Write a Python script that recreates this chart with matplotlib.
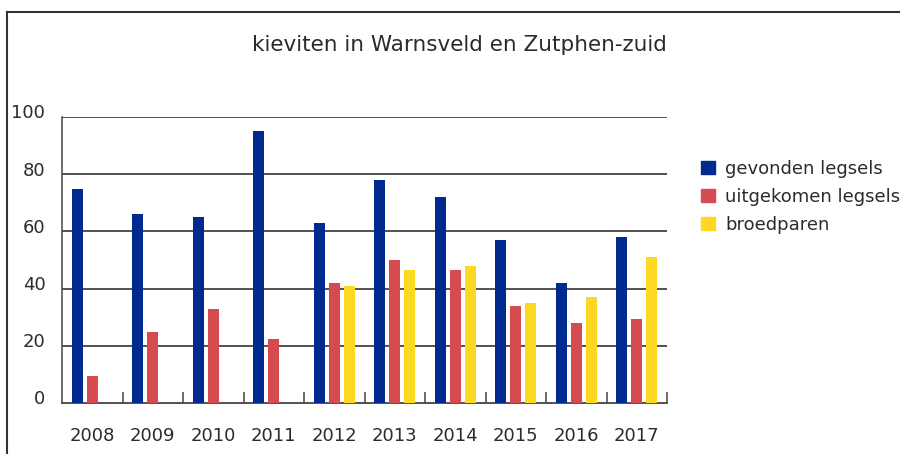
import numpy as np
from matplotlib import pyplot as plt
from matplotlib.lines import Line2D
from matplotlib.patches import Patch
from matplotlib.transforms import ScaledTranslation

years = ['2008', '2009', '2010', '2011', '2012', '2013', '2014', '2015', '2016', '2017']
gevonden = [75, 66, 65, 95, 63, 78, 72, 57, 42, 58]
uitgekomen = [9.5, 25, 33, 22.5, 42, 50, 46.5, 34, 28, 29.5]
broedparen = [0, 0, 0, 0, 41, 46.5, 48, 35, 37, 51]

series = ['gevonden legsels', 'uitgekomen legsels', 'broedparen']
colors = ['#002a8f', '#d64b50', '#fcd920']
text_col = '#2b2b2b'

plt.rcParams['font.family'] = ['DejaVu Sans']

fig = plt.figure(figsize=(9, 4.54), dpi=100)
ax = fig.add_axes([62/900, 1 - 403/454, (667 - 62)/900, (403 - 117)/454])

x = np.arange(len(years)) + 0.5
w = 0.177
off = 0.248
for vals, c, d in zip([gevonden, uitgekomen, broedparen], colors, [-off, 0, off]):
    ax.bar(x + d, vals, width=w, color=c, zorder=3)

ax.set_xlim(0, len(years))
ax.set_ylim(0, 100)

# grid lines
for v in [20, 40, 60, 80, 100]:
    ax.axhline(v, color='#222222', lw=1.1, zorder=1)

for s in ['top', 'right']:
    ax.spines[s].set_visible(False)
ax.spines['left'].set_color('#444444')
ax.spines['bottom'].set_color('#444444')
ax.spines['left'].set_linewidth(1.1)
ax.spines['bottom'].set_linewidth(1.3)

ax.set_yticks([0, 20, 40, 60, 80, 100])
ax.tick_params(axis='y', length=0, pad=12, labelsize=13, labelcolor=text_col)
for lab in ax.get_yticklabels():
    lab.set_transform(lab.get_transform() + ScaledTranslation(0, 4/72, fig.dpi_scale_trans))

ax.set_xticks(np.arange(1, len(years) + 1))
ax.set_xticklabels([])
ax.tick_params(axis='x', which='major', direction='in', length=8, width=1.1, color='#444444')
ax.set_xticks(x, minor=True)
ax.set_xticklabels(years, minor=True)
ax.tick_params(axis='x', which='minor', length=0, pad=17, labelsize=13, labelcolor=text_col)

fig.text(0.51, 1 - 45/454, 'kieviten in Warnsveld en Zutphen-zuid', ha='center', va='center',
         fontsize=15.5, color=text_col)

handles = [Patch(color=c) for c in colors]
fig.legend(handles, series, loc='upper left', bbox_to_anchor=(701/900, 1 - 160/454),
           frameon=False, fontsize=13, handlelength=0.75, handleheight=0.75,
           handletextpad=0.6, labelspacing=0.55, borderpad=0, borderaxespad=0,
           labelcolor=text_col)

# outer frame lines (left and top)
fig.add_artist(Line2D([6.5/900, 6.5/900], [0, 1 - 12/454], color='#333333', lw=1.5))
fig.add_artist(Line2D([6.5/900, 1], [1 - 12/454, 1 - 12/454], color='#333333', lw=1.5))

fig.savefig('out.png', dpi=100)
